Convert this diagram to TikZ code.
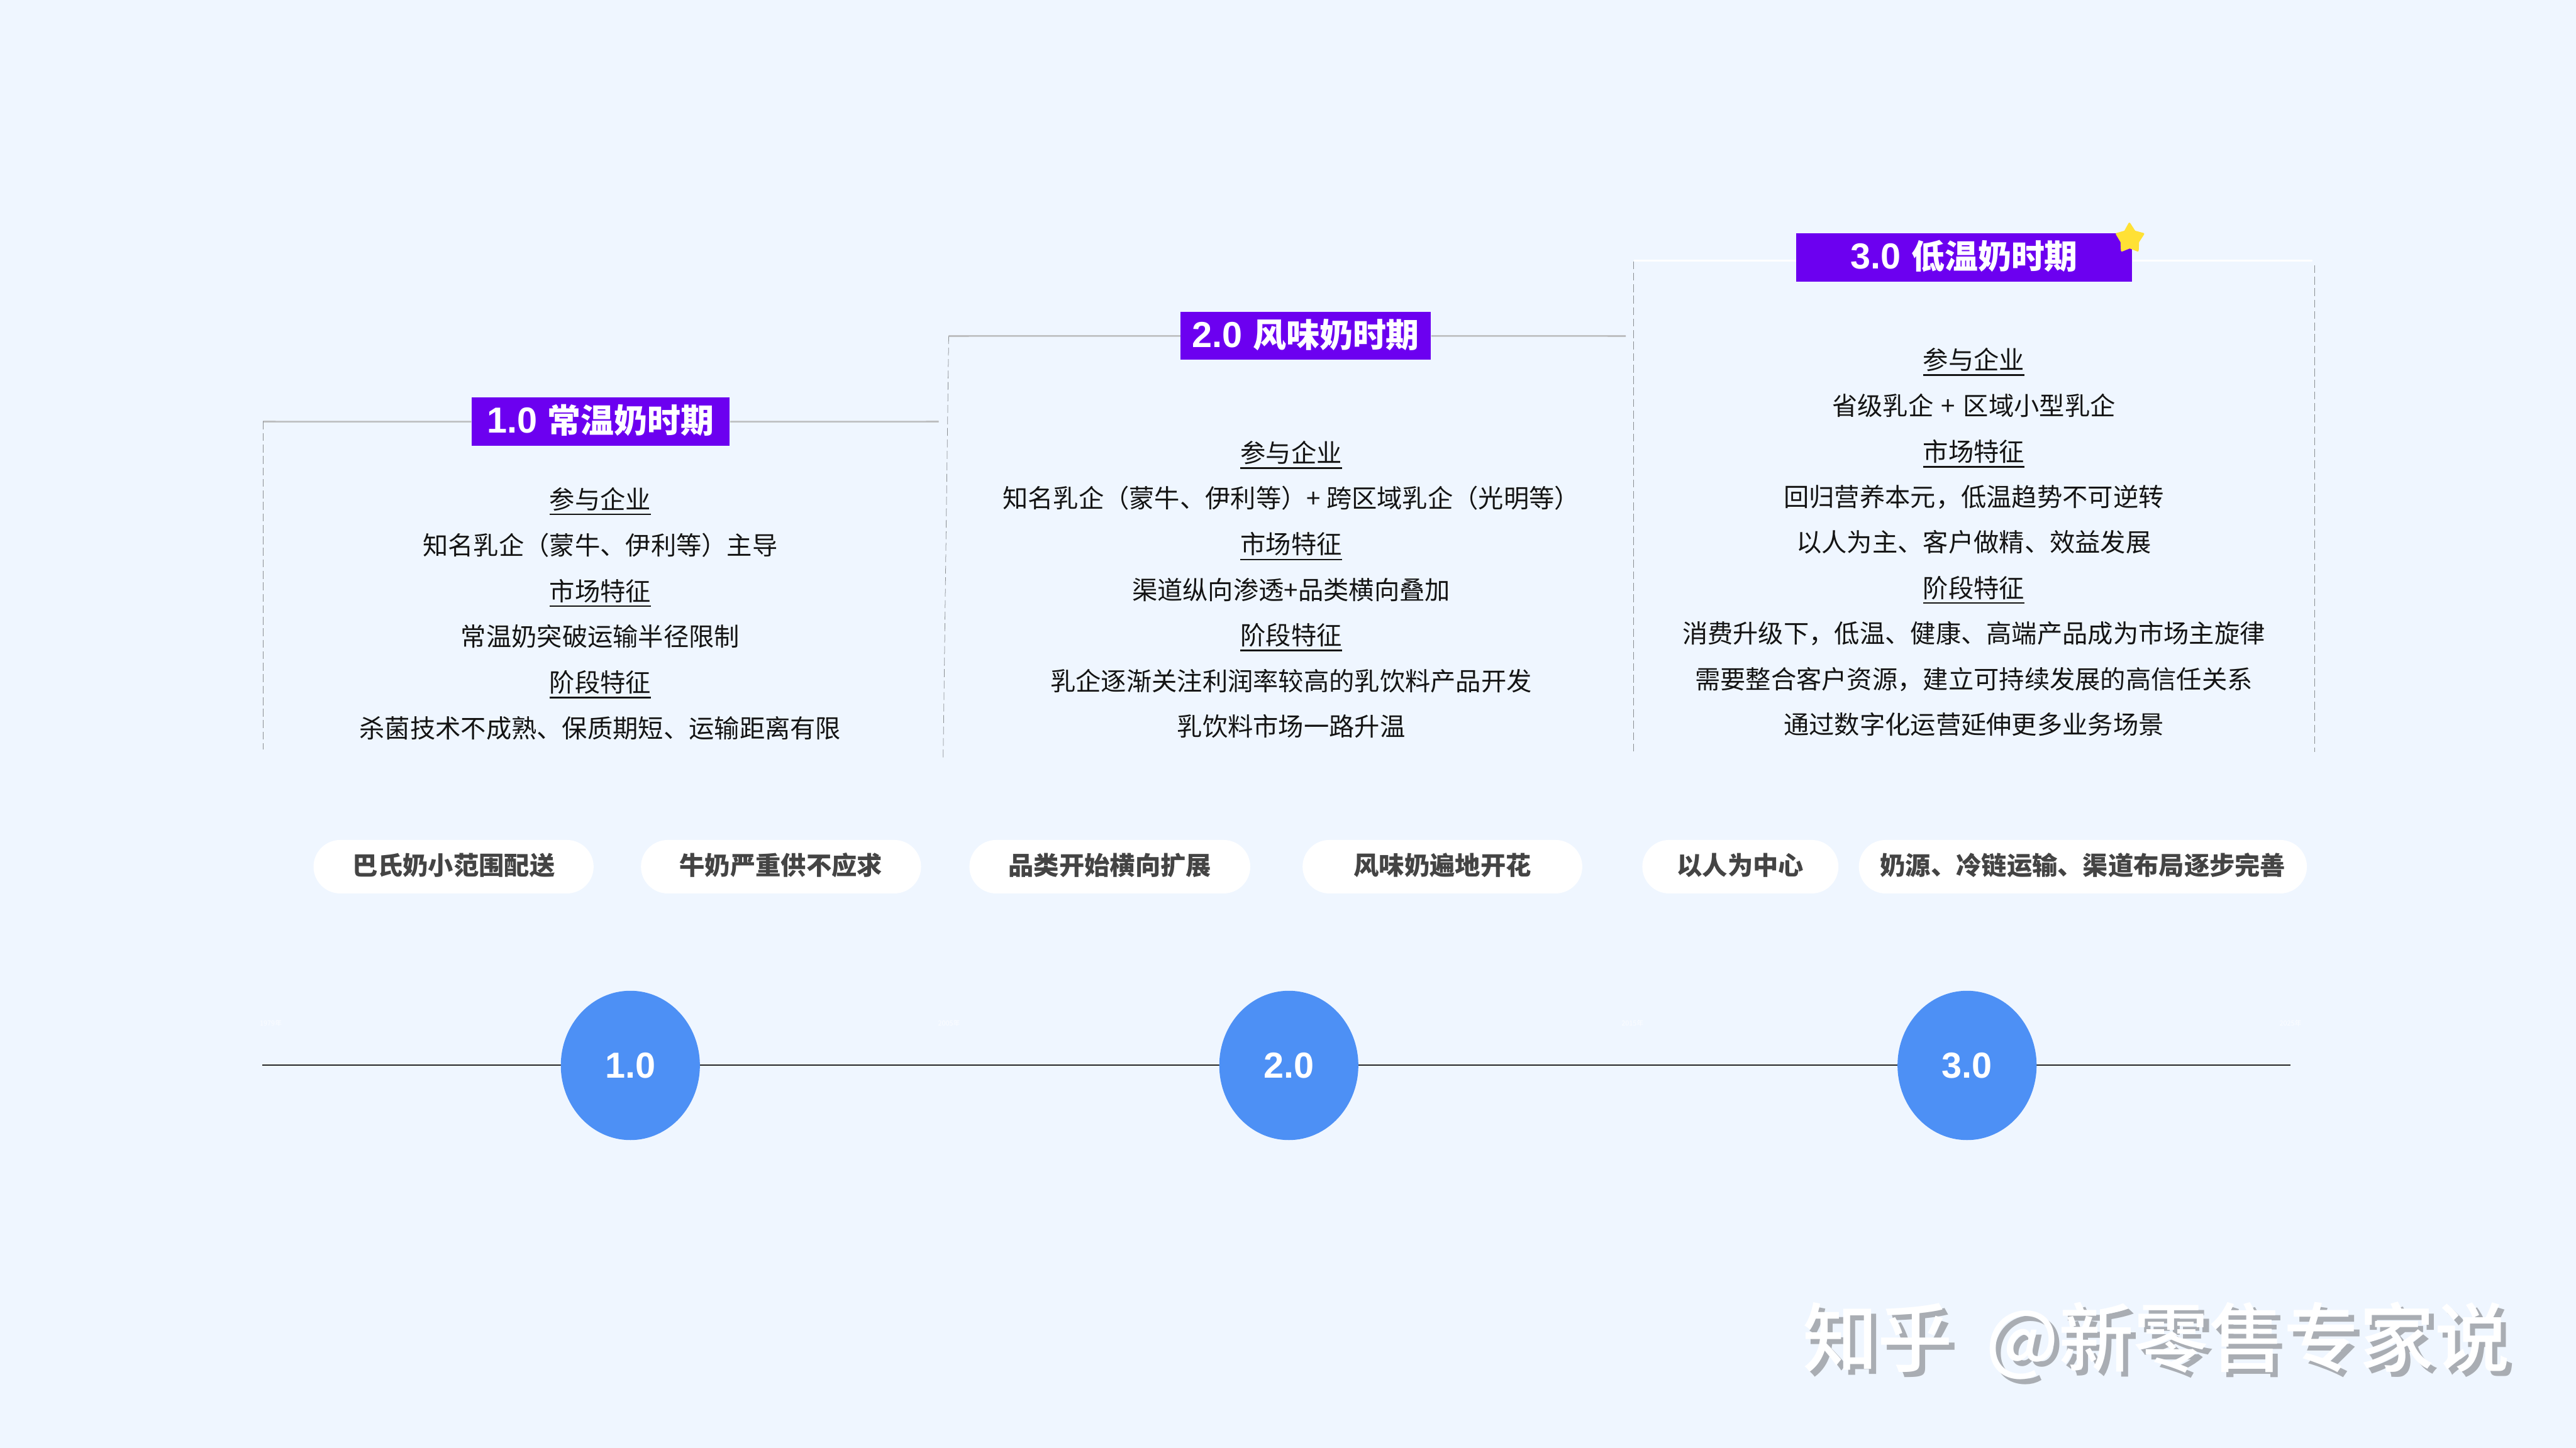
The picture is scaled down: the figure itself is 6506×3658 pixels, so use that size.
\documentclass[tikz,border=0pt]{standalone}
\usepackage{fontspec}
\setmainfont{Noto Sans CJK SC}
\newfontfamily\latinbold{Liberation Sans}
\newfontfamily\cjkmedium{Noto Sans CJK SC Medium}
\usetikzlibrary{shapes.geometric}
\definecolor{pagebg}{HTML}{EFF6FF}
\definecolor{titlepurple}{HTML}{6C00F0}
\definecolor{bubble}{HTML}{4D90F5}
\definecolor{starcol}{HTML}{FFE135}
\definecolor{rulegrey}{HTML}{BDBEC0}
\definecolor{dashgrey}{HTML}{8A8E92}
\definecolor{bodyink}{HTML}{141414}
\definecolor{pillink}{HTML}{444444}
\definecolor{wmshadow}{HTML}{A9ADB3}
\newcommand{\headul}[1]{\setbox0=\hbox{#1}\leavevmode\rlap{\smash{\rule[-0.16cm]{\wd0}{0.04cm}}}\box0}
\newcommand{\dg}[1]{{\fontsize{26pt}{28pt}\latinbold\bfseries #1}}
\tikzset{
  bodytext/.style={inner sep=0pt,text=bodyink,font=\fontsize{18.2pt}{20pt}\selectfont,text height=16pt,text depth=2.2pt},
  headtext/.style={bodytext},
  titlebox/.style={fill=titlepurple,text=white,inner sep=0pt,font=\fontsize{23.9pt}{26pt}\selectfont\bfseries,minimum height=1.22cm,text height=21pt,text depth=4.84pt},
  pill/.style={fill=white,text=pillink,inner sep=0pt,rounded corners=0.675cm,minimum height=1.35cm,font=\fontsize{18.2pt}{20pt}\selectfont\bfseries,text height=15.2pt,text depth=3pt},
  bubblenode/.style={ellipse,fill=bubble,text=white,inner sep=0pt,minimum width=3.51cm,minimum height=3.77cm,font=\fontsize{24.2pt}{26pt}\selectfont},
  topline/.style={draw=rulegrey,line width=0.04cm},
  whiteline/.style={draw=white,line width=0.045cm},
  dashline/.style={draw=dashgrey,line width=0.012cm,dash pattern=on 0.2cm off 0.09cm},
  axis/.style={draw=black!85,line width=0.03cm},
  yearlabel/.style={inner sep=0pt,text=white,text opacity=0.8,font=\fontsize{4.9pt}{6pt}\selectfont},
  wmark/.style={inner sep=0pt,anchor=west,font=\fontsize{54pt}{58pt}\cjkmedium},
}
\begin{document}
\begin{tikzpicture}[x=0.01cm,y=-0.01cm]
\path[use as bounding box,fill=pagebg] (0,0) rectangle (6506,3658);

% frame coordinates
\coordinate (l1a) at (664,1065);
\coordinate (l1b) at (2371,1065);
\coordinate (d1b) at (664,1894);
\coordinate (l2a) at (2396,849);
\coordinate (l2b) at (4106,849);
\coordinate (d2b) at (2382,1917);
\coordinate (l3a) at (4127,659);
\coordinate (l3b) at (5840,659);
\coordinate (d3a) at (4126,660);
\coordinate (d3b) at (4126,1900);
\coordinate (d4a) at (5846,670);
\coordinate (d4b) at (5846,1900);

% title boxes
\node[titlebox,minimum width=6.52cm] (t1) at (1517,1065.5) {\dg{1.0}\hspace{0.26cm}常温奶时期};
\node[titlebox,minimum width=6.32cm,minimum height=1.21cm] (t2) at (3298,848.5) {\dg{2.0}\hspace{0.26cm}风味奶时期};
\node[titlebox,minimum width=8.48cm] (t3) at (4961,650) {\dg{3.0}\hspace{0.26cm}低温奶时期};

% frame lines
\draw[topline] (l1a) -- (t1);
\draw[topline] (t1) -- (l1b);
\draw[topline] (l2a) -- (t2);
\draw[topline] (t2) -- (l2b);
\draw[whiteline] (l3a) -- (l3a -| t3.west);
\draw[whiteline] (l3b -| t3.east) -- (l3b);
\draw[dashline] (l1a) -- (d1b);
\draw[dashline] (l2a) -- (d2b);
\draw[dashline] (d3a) -- (d3b);
\draw[dashline] (d4a) -- (d4b);

% star
\fill[starcol,draw=starcol,line width=0.05cm,line join=round]
  (5378,565) -- (5391,585) -- (5413,591) -- (5400,611) -- (5399,633) -- (5379,625)
  -- (5359,633) -- (5358,611) -- (5346,591) -- (5367,585) -- cycle;

% column 1
\node[headtext] (a1) at (1516,1261) {\headul{参与企业}};
\node[bodytext] (a2) at (1516,1377) {知名乳企（蒙牛、伊利等）主导};
\node[headtext] (a3) at (1516,1493) {\headul{市场特征}};
\node[bodytext] (a4) at (1516,1608) {常温奶突破运输半径限制};
\node[headtext] (a5) at (1516,1724) {\headul{阶段特征}};
\node[bodytext] (a6) at (1516,1840) {杀菌技术不成熟、保质期短、运输距离有限};

% column 2
\node[headtext] (b1) at (3261,1144) {\headul{参与企业}};
\node[bodytext] (b2) at (3261,1259) {知名乳企（蒙牛、伊利等）+ 跨区域乳企（光明等）};
\node[headtext] (b3) at (3261,1375) {\headul{市场特征}};
\node[bodytext] (b4) at (3261,1491) {渠道纵向渗透+品类横向叠加};
\node[headtext] (b5) at (3261,1605) {\headul{阶段特征}};
\node[bodytext] (b6) at (3261,1720) {乳企逐渐关注利润率较高的乳饮料产品开发};
\node[bodytext] (b7) at (3261,1835) {乳饮料市场一路升温};

% column 3
\node[headtext] (c1) at (4985,909) {\headul{参与企业}};
\node[bodytext] (c2) at (4985,1025) {省级乳企\hspace{0.2cm}+\hspace{0.2cm}区域小型乳企};
\node[headtext] (c3) at (4985,1141) {\headul{市场特征}};
\node[bodytext] (c4) at (4985,1255) {回归营养本元，低温趋势不可逆转};
\node[bodytext] (c5) at (4985,1370) {以人为主、客户做精、效益发展};
\node[headtext] (c6) at (4985,1485) {\headul{阶段特征}};
\node[bodytext] (c7) at (4985,1600) {消费升级下，低温、健康、高端产品成为市场主旋律};
\node[bodytext] (c8) at (4985,1715) {需要整合客户资源，建立可持续发展的高信任关系};
\node[bodytext] (c9) at (4985,1830) {通过数字化运营延伸更多业务场景};

% pills
\node[pill,minimum width=7.07cm] (p1) at (1145.5,2189.5) {巴氏奶小范围配送};
\node[pill,minimum width=7.07cm] (p2) at (1972.5,2189.5) {牛奶严重供不应求};
\node[pill,minimum width=7.09cm] (p3) at (2803,2189.5) {品类开始横向扩展};
\node[pill,minimum width=7.06cm] (p4) at (3643,2189.5) {风味奶遍地开花};
\node[pill,minimum width=4.95cm] (p5) at (4395.5,2189.5) {以人为中心};
\node[pill,minimum width=11.31cm] (p6) at (5260.5,2189.5) {奶源、冷链运输、渠道布局逐步完善};

% year labels
\node[yearlabel] (y1) at (684,2585) {1979年};
\node[yearlabel] (y2) at (2397,2585) {2005年};
\node[yearlabel] (y3) at (4123,2585) {2015年};
\node[yearlabel] (y4) at (5785,2585) {2025年};

% timeline
\coordinate (axs) at (663,2691);
\coordinate (axe) at (5785,2691);
\draw[axis] (axs) -- (axe);
\node[bubblenode] (n1) at (1592,2691.5) {\dg{1.0}};
\node[bubblenode] (n2) at (3255,2691.5) {\dg{2.0}};
\node[bubblenode] (n3) at (4968,2691.5) {\dg{3.0}};

% watermark
\node[wmark,text=wmshadow] (wm2) at (4565,3399) {知乎\hspace{0.82cm}@新零售专家说};
\node[wmark,text=white] (wm1) at (4552,3387) {知乎\hspace{0.82cm}@新零售专家说};
\end{tikzpicture}
\end{document}
